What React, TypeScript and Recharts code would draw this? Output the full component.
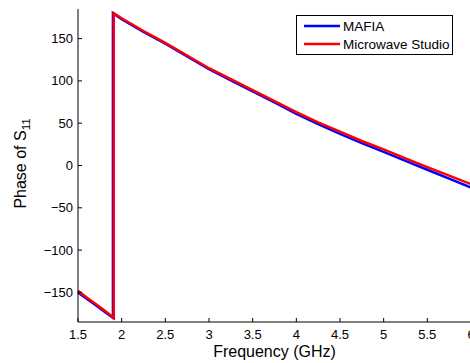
import React from 'react';
import { LineChart, Line, XAxis, YAxis } from 'recharts';

// MAFIA (blue)
const mafiaFreq = [1.5, 1.6, 1.7, 1.8, 1.9, 1.9, 2.0, 2.25, 2.5, 2.75, 3.0, 3.25, 3.5, 3.75, 4.0, 4.25, 4.5, 4.75, 5.0, 5.25, 5.5, 5.75, 6.0];
const mafiaPhase = [-150, -157.5, -165, -172.5, -180, 180, 173, 158, 144, 129, 114, 100.5, 87.5, 74.5, 61, 49, 37.5, 26.5, 16, 5.5, -5, -15.5, -26];

// Microwave Studio (red)
const mwsFreq = [1.5, 1.6, 1.7, 1.8, 1.91, 1.91, 2.0, 2.25, 2.5, 2.75, 3.0, 3.25, 3.5, 3.75, 4.0, 4.25, 4.5, 4.75, 5.0, 5.25, 5.5, 5.75, 6.0];
const mwsPhase = [-148, -156, -163.5, -171, -180, 180, 174, 159, 145, 130, 115, 102, 89, 76, 63, 51, 40, 29, 19, 8.5, -2, -12, -22];

const xTicks = [1.5, 2, 2.5, 3, 3.5, 4, 4.5, 5, 5.5, 6];
const yTicks = [-150, -100, -50, 0, 50, 100, 150];

const mafiaData = mafiaFreq.map((f, i) => ({ freq: f, phase: mafiaPhase[i] }));
const mwsData = mwsFreq.map((f, i) => ({ freq: f, phase: mwsPhase[i] }));

const FONT = '"Liberation Sans", Arial, sans-serif';
const fmt = (v: number) => (v < 0 ? '\u2212' + Math.abs(v) : String(v));

const BottomTick = (props: any) => {
  const { x, y, payload } = props;
  return (
    <g>
      <line x1={x} y1={y} x2={x} y2={y - 4} stroke="#000" />
      <text x={x} y={y + 17} textAnchor="middle" fontSize={13} fontFamily={FONT} fill="#000">
        {payload.value}
      </text>
    </g>
  );
};

const TopTick = (props: any) => {
  const { x, y } = props;
  return <line x1={x} y1={y} x2={x} y2={y + 4} stroke="#000" />;
};

const LeftTick = (props: any) => {
  const { x, y, payload } = props;
  return (
    <g>
      <line x1={x} y1={y} x2={x + 4} y2={y} stroke="#000" />
      <text x={x - 5} y={y + 4.5} textAnchor="end" fontSize={13} fontFamily={FONT} fill="#000">
        {fmt(payload.value)}
      </text>
    </g>
  );
};

const RightTick = (props: any) => {
  const { x, y } = props;
  return <line x1={x} y1={y} x2={x - 4} y2={y} stroke="#000" />;
};

const YLabel = (props: any) => {
  const vb = props.viewBox;
  const cy = vb.y + vb.height / 2 - 2;
  const cx = 26;
  return (
    <text x={cx} y={cy} transform={`rotate(-90 ${cx} ${cy})`} textAnchor="middle" fontSize={16} fontFamily={FONT} fill="#000">
      Phase of S<tspan fontSize={11.5} dy={4}>11</tspan>
    </text>
  );
};

const XLabel = (props: any) => {
  const vb = props.viewBox;
  return (
    <text x={vb.x + vb.width / 2} y={357} textAnchor="middle" fontSize={16} fontFamily={FONT} fill="#000">
      Frequency (GHz)
    </text>
  );
};

const LegendBox = () => (
  <svg width={158} height={41} style={{ position: 'absolute', left: 296, top: 15 }}>
    <rect x={0.5} y={0.5} width={156} height={39} fill="#fff" stroke="#000" />
    <line x1={8} y1={11} x2={44} y2={11} stroke="#0000ff" strokeWidth={2.5} />
    <text x={47} y={15.5} fontSize={13.5} fontFamily={FONT} fill="#000">MAFIA</text>
    <line x1={8} y1={29} x2={44} y2={29} stroke="#ff0000" strokeWidth={2.5} />
    <text x={47} y={33.5} fontSize={13.5} fontFamily={FONT} fill="#000">Microwave Studio</text>
  </svg>
);

export default function App() {
  return (
    <div style={{ position: 'absolute', left: 0, top: 0, width: 470, height: 363, overflow: 'hidden', background: '#fff' }}>
      <LineChart width={480} height={363} margin={{ top: 9, right: 9, bottom: 0, left: 0 }}>
        <XAxis
          xAxisId="b"
          dataKey="freq"
          type="number"
          domain={[1.5, 6]}
          ticks={xTicks}
          orientation="bottom"
          height={41}
          tickSize={0}
          tickMargin={0}
          tickLine={false}
          stroke="#000"
          tick={<BottomTick />}
          interval={0}
          allowDuplicatedCategory={false}
          label={<XLabel />}
        />
        <XAxis
          xAxisId="t"
          dataKey="freq"
          type="number"
          domain={[1.5, 6]}
          ticks={xTicks}
          orientation="top"
          height={0}
          tickSize={0}
          tickMargin={0}
          tickLine={false}
          stroke="#000"
          tick={<TopTick />}
          interval={0}
        />
        <YAxis
          yAxisId="l"
          type="number"
          domain={[-185, 185]}
          ticks={yTicks}
          width={78}
          tickSize={0}
          tickMargin={0}
          tickLine={false}
          stroke="#000"
          tick={<LeftTick />}
          interval={0}
          label={<YLabel />}
        />
        <YAxis
          yAxisId="r"
          orientation="right"
          type="number"
          domain={[-185, 185]}
          ticks={yTicks}
          width={0}
          tickSize={0}
          tickMargin={0}
          tickLine={false}
          stroke="#000"
          tick={<RightTick />}
          interval={0}
        />
        <Line
          xAxisId="b"
          yAxisId="l"
          data={mafiaData}
          dataKey="phase"
          stroke="#0000ff"
          strokeWidth={2.5}
          dot={false}
          isAnimationActive={false}
          type="linear"
        />
        <Line
          xAxisId="b"
          yAxisId="l"
          data={mwsData}
          dataKey="phase"
          stroke="#ff0000"
          strokeWidth={2.5}
          dot={false}
          isAnimationActive={false}
          type="linear"
        />
      </LineChart>
      <LegendBox />
    </div>
  );
}
